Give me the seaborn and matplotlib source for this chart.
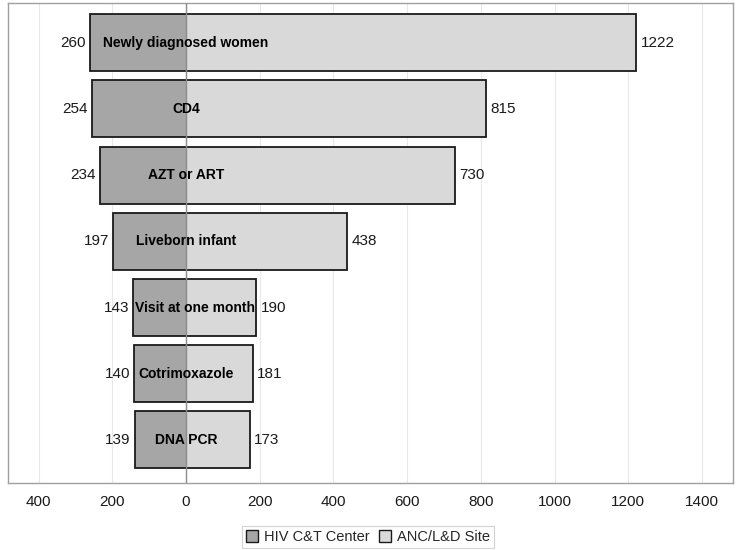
import matplotlib
matplotlib.use("Agg")
import matplotlib.pyplot as plt
import seaborn as sns
import pandas as pd
import numpy as np
from matplotlib.patches import Patch

categories = ["Newly diagnosed women", "CD4", "AZT or ART", "Liveborn infant",
              "Visit at one month", "Cotrimoxazole", "DNA PCR"]
hiv_ct = [260, 254, 234, 197, 143, 140, 139]
anc_ld = [1222, 815, 730, 438, 190, 181, 173]
series_names = ["HIV C&T Center", "ANC/L&D Site"]
tick_values = [-400, -200, 0, 200, 400, 600, 800, 1000, 1200, 1400]

dark = "#a6a6a6"
light = "#d9d9d9"

sns.set_theme(style="white")
plt.rcParams["font.family"] = ["Liberation Sans", "DejaVu Sans"]

df = pd.DataFrame({"cat": categories, "left": [-v for v in hiv_ct], "right": anc_ld})

fig = plt.figure(figsize=(7.37, 5.5), dpi=100)
ax = fig.add_axes([8/737, 1-483/550, 725/737, 480/550])

for x in tick_values:
    ax.axvline(x, color="#e8e8e8", lw=0.8, zorder=0)

width = 0.86
sns.barplot(data=df, y="cat", x="left", color=dark, saturation=1, width=width,
            orient="h", ax=ax, zorder=2, linewidth=0)
sns.barplot(data=df, y="cat", x="right", color=light, saturation=1, width=width,
            orient="h", ax=ax, zorder=2, linewidth=0)
ypos = np.arange(len(categories))
# outline around combined bar
ax.barh(ypos, np.array(hiv_ct) + np.array(anc_ld), left=-np.array(hiv_ct),
        height=width, fill=False, edgecolor="#1a1a1a", linewidth=1.3, zorder=4)
ax.axvline(0, color="#8c8c8c", lw=1.0, zorder=5)

ax.set_xlim(-483, 1484)
ax.set_ylim(len(categories) - 1 + 0.65, -0.6)

cat_texts = []
for i, (l, r, c) in enumerate(zip(hiv_ct, anc_ld, categories)):
    ax.text(-l - 12, i, str(l), ha="right", va="center", fontsize=11, color="#1a1a1a", zorder=6)
    ax.text(r + 12, i, str(r), ha="left", va="center", fontsize=11, color="#1a1a1a", zorder=6)
    t = ax.text(0, i, c, ha="center", va="center", fontsize=10, fontweight="bold",
                color="black", zorder=6)
    cat_texts.append((t, l))

# keep category labels inside the bar's left edge
fig.canvas.draw()
renderer = fig.canvas.get_renderer()
for t, l in cat_texts:
    bb = t.get_window_extent(renderer)
    left_px = ax.transData.transform((-l, 0))[0] + 2
    if bb.x0 < left_px:
        shift = left_px - bb.x0
        x_new = ax.transData.inverted().transform((ax.transData.transform((0, 0))[0] + shift, 0))[0]
        t.set_x(x_new)

ax.set_xticks(tick_values)
ax.set_xticklabels([str(abs(v)) for v in tick_values], fontsize=11, color="#1a1a1a")
ax.tick_params(axis="x", length=0, pad=9)
ax.set_yticks([])
ax.set_xlabel("")
ax.set_ylabel("")
for s in ax.spines.values():
    s.set_color("#a0a0a0")
    s.set_linewidth(1.0)

handles = [Patch(facecolor=dark, edgecolor="#1a1a1a", lw=1.0),
           Patch(facecolor=light, edgecolor="#1a1a1a", lw=1.0)]
leg = fig.legend(handles, series_names, loc="center", bbox_to_anchor=(368/737, 1-537/550),
                 ncol=2, fontsize=10.5, frameon=True, fancybox=False, handlelength=0.8,
                 handleheight=0.8, handletextpad=0.4, columnspacing=0.7, borderpad=0.3)
leg.get_frame().set_edgecolor("#c8c8c8")
leg.get_frame().set_linewidth(0.8)

fig.savefig("out.png", dpi=100)
